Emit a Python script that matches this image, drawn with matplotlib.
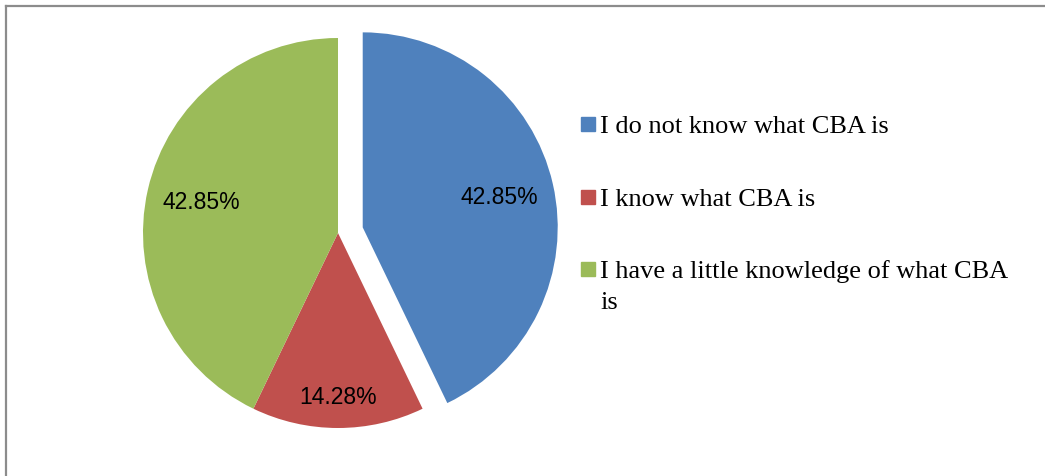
import matplotlib.pyplot as plt
from matplotlib.patches import Rectangle
from matplotlib.lines import Line2D

categories = ["I do not know what CBA is",
              "I know what CBA is",
              "I have a little knowledge of what CBA\nis"]
values = [42.85, 14.28, 42.85]
colors = ["#4F81BD", "#C0504D", "#9BBB59"]
explode = [0.13, 0, 0]

W, H = 1045, 477
R = 195  # pie radius in px

fig = plt.figure(figsize=(W / 100, H / 100), dpi=100)

# axes sized so that data unit 1 == R pixels, pie centre at (338, 234) from top
cx, cy = 338, H - 234
half = 250
ax = fig.add_axes([(cx - half) / W, (cy - half) / H, 2 * half / W, 2 * half / H])

total = sum(values)
wedges, texts, autotexts = ax.pie(
    values, colors=colors, explode=explode, startangle=90,
    counterclock=False, radius=1, pctdistance=0.72,
    autopct=lambda p: f"{p * total / 100:.2f}%",
    wedgeprops=dict(linewidth=0),
    textprops=dict(fontsize=16.5, family=["Liberation Sans", "DejaVu Sans"], color="black"))
autotexts[1].set_position((0, -0.84))
ax.set_xlim(-half / R, half / R)
ax.set_ylim(-half / R, half / R)
ax.set_aspect("equal")
ax.axis("off")

# legend, placed by hand like the original
text_x = 600
baselines = [133, 206, 278]
line_step = 31
for name, col, base in zip(categories, colors, baselines):
    fig.patches.append(Rectangle((581 / W, (H - base + 1) / H), 14 / W, 14 / H,
                                 transform=fig.transFigure, color=col))
    for i, line in enumerate(name.split("\n")):
        fig.text(text_x / W, (H - base - i * line_step) / H, line, fontsize=19,
                 family=["Liberation Serif", "DejaVu Serif"], va="baseline",
                 ha="left")

# chart area border (top and left edges visible)
fig.add_artist(Line2D([6 / W, 1.0], [(H - 7) / H] * 2, transform=fig.transFigure,
                      color="#8c8c8c", lw=1.6))
fig.add_artist(Line2D([6 / W] * 2, [0, (H - 7) / H], transform=fig.transFigure,
                      color="#8c8c8c", lw=1.6))

fig.savefig("out.png", dpi=100)
